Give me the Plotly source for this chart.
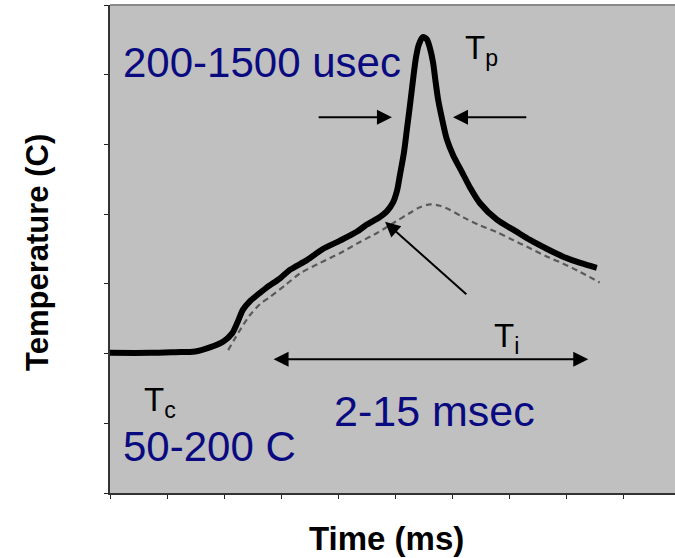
import plotly.graph_objects as go

# ---- data (time in ms-ish units, temperature in arbitrary units) ----
solid_t = [0.00, 0.70, 1.14, 1.49, 1.75, 1.98, 2.14, 2.24, 2.33, 2.45, 2.58, 2.75,
           2.98, 3.15, 3.45, 3.73, 4.03, 4.33, 4.50, 4.73, 4.85, 4.96, 5.03, 5.08,
           5.15, 5.20, 5.26, 5.31, 5.36, 5.41, 5.48, 5.55, 5.60, 5.66, 5.70, 5.75,
           5.82, 5.90, 6.01, 6.17, 6.31, 6.48, 6.78, 7.10, 7.36, 7.66, 7.94, 8.24, 8.53]
solid_T = [2.01, 2.01, 2.02, 2.03, 2.09, 2.17, 2.29, 2.46, 2.63, 2.75, 2.84, 2.95,
           3.08, 3.20, 3.34, 3.50, 3.62, 3.75, 3.85, 3.96, 4.04, 4.17, 4.34, 4.56,
           4.88, 5.20, 5.59, 5.93, 6.24, 6.43, 6.54, 6.51, 6.40, 6.18, 5.93, 5.64,
           5.36, 5.08, 4.85, 4.60, 4.38, 4.16, 3.92, 3.76, 3.63, 3.50, 3.39, 3.30, 3.23]

dash_t = [2.07, 2.17, 2.28, 2.45, 2.63, 2.80, 3.07, 3.33, 3.68, 4.03, 4.38, 4.68,
          5.00, 5.26, 5.43, 5.61, 5.78, 5.96, 6.20, 6.48, 6.78, 7.06, 7.36, 7.66,
          7.94, 8.24, 8.58]
dash_T = [2.05, 2.19, 2.34, 2.55, 2.71, 2.81, 2.98, 3.15, 3.30, 3.44, 3.60, 3.73,
          3.89, 4.02, 4.10, 4.14, 4.12, 4.06, 3.95, 3.84, 3.74, 3.63, 3.51, 3.39,
          3.29, 3.17, 3.02]

x_range = [0, 9.9]
y_range = [0, 7]
x_ticks = list(range(0, 10))
y_ticks = list(range(0, 8))

# annotation arrows: (tail_x, tail_y, head_x, head_y)
arrow_left = (3.63, 5.39, 4.94, 5.39)
arrow_right = (7.32, 5.39, 6.01, 5.39)
arrow_diag = (6.27, 2.83, 4.82, 3.89)
arrow_span = (2.84, 1.92, 8.38, 1.92)

NAVY = "#0a0a80"
FONT = "Liberation Sans, Arial, sans-serif"

fig = go.Figure()
fig.add_trace(go.Scatter(x=dash_t, y=dash_T, mode="lines",
                         line=dict(color="#5a5a5a", width=2.2, dash="6px,4px",
                                   shape="spline", smoothing=0.8),
                         showlegend=False, hoverinfo="skip"))
fig.add_trace(go.Scatter(x=solid_t, y=solid_T, mode="lines",
                         line=dict(color="black", width=6, shape="spline", smoothing=0.8),
                         showlegend=False, hoverinfo="skip"))

anns = []
for (tx, ty, hx, hy) in [arrow_left, arrow_right, arrow_diag]:
    anns.append(dict(x=hx, y=hy, ax=tx, ay=ty, xref="x", yref="y", axref="x", ayref="y",
                     showarrow=True, arrowhead=2, arrowsize=1.5, arrowwidth=2,
                     arrowcolor="black", text="", standoff=0))
tx, ty, hx, hy = arrow_span
anns.append(dict(x=hx, y=hy, ax=tx, ay=ty, xref="x", yref="y", axref="x", ayref="y",
                 showarrow=True, arrowhead=2, startarrowhead=2, arrowside="end+start",
                 arrowsize=1.5, startarrowsize=1.5, arrowwidth=2,
                 arrowcolor="black", text="", standoff=0, startstandoff=0))

def label(x, y, text, size, color, xanchor="left"):
    return dict(x=x, y=y, xref="x", yref="y", text=text, showarrow=False,
                xanchor=xanchor, yanchor="middle",
                font=dict(family=FONT, size=size, color=color))

anns += [
    label(0.19, 6.18, "200-1500 usec", 42, NAVY),
    label(0.19, 0.66, "50-200 C", 42, NAVY),
    label(3.89, 1.18, "2-15 msec", 43, NAVY),
    label(0.56, 1.30, "T<sub>c</sub>", 33, "black"),
    label(6.19, 6.36, "T<sub>p</sub>", 33, "black"),
    label(6.70, 2.22, "T<sub>i</sub>", 33, "black"),
]

# axis titles
anns.append(dict(x=-0.1274, y=0.492, xref="paper", yref="paper", text="<b>Temperature (C)</b>",
                 textangle=-90, showarrow=False, xanchor="center", yanchor="middle",
                 font=dict(family=FONT, size=31, color="black")))
anns.append(dict(x=0.49, y=-0.094, xref="paper", yref="paper", text="<b>Time (ms)</b>",
                 showarrow=False, xanchor="center", yanchor="middle",
                 font=dict(family=FONT, size=33, color="black")))

axis_common = dict(showgrid=False, zeroline=False, showticklabels=False,
                   ticks="outside", ticklen=4, tickwidth=1, tickcolor="#222",
                   showline=True, linecolor="#333", linewidth=2, fixedrange=True)

fig.update_layout(
    width=675, height=558, autosize=False,
    margin=dict(l=110, r=0, t=5, b=65),
    paper_bgcolor="white", plot_bgcolor="#c0c0c0",
    xaxis=dict(range=x_range, tickvals=x_ticks, **axis_common),
    yaxis=dict(range=y_range, tickvals=y_ticks, **axis_common),
    annotations=anns,
    shapes=[dict(type="line", xref="paper", yref="paper", x0=0, x1=1, y0=1, y1=1,
                 line=dict(color="#8a8a8a", width=2))],
)

fig.write_html("out.html")
